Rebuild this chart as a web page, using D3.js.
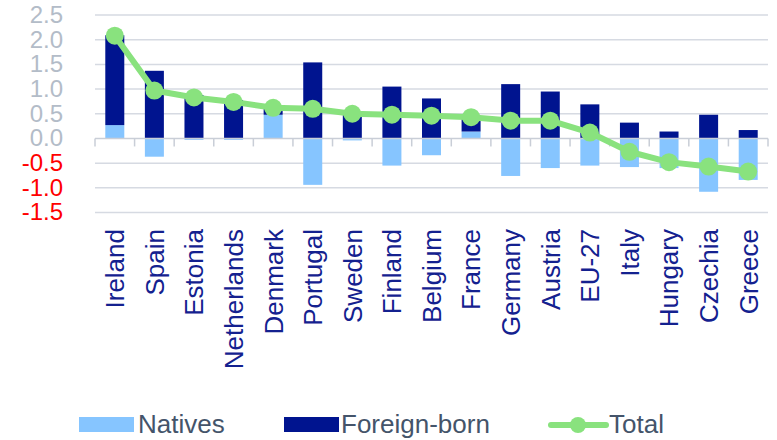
<!DOCTYPE html>
<html>
<head>
<meta charset="utf-8">
<script src="https://cdn.jsdelivr.net/npm/d3@7"></script>
<style>
  body { margin: 0; background: #fff; }
  svg { display: block; font-family: "Liberation Sans", Arial, sans-serif; }
</style>
</head>
<body>
<div id="chart"></div>
<script>
// data (percentage points)
const countries = ["Ireland", "Spain", "Estonia", "Netherlands", "Denmark", "Portugal", "Sweden",
  "Finland", "Belgium", "France", "Germany", "Austria", "EU-27", "Italy", "Hungary", "Czechia", "Greece"];
const natives     = [0.27, -0.37, -0.03, -0.03, 0.48, -0.94, -0.04, -0.55, -0.34, 0.14, -0.76, -0.60, -0.55, -0.58, -0.60, -1.08, -0.84];
const foreignBorn = [1.82, 1.37, 0.88, 0.78, 0.18, 1.54, 0.55, 1.05, 0.81, 0.27, 1.10, 0.95, 0.69, 0.32, 0.14, 0.48, 0.17];
const total       = [2.08, 0.97, 0.83, 0.74, 0.62, 0.60, 0.50, 0.48, 0.46, 0.43, 0.36, 0.36, 0.12, -0.27, -0.48, -0.57, -0.67];
const yTicks = [-1.5, -1.0, -0.5, 0.0, 0.5, 1.0, 1.5, 2.0, 2.5];

const width = 777, height = 440;
const colNat = "#86c5ff", colFor = "#00148f", colTot = "#89e27e";

const svg = d3.select("#chart").append("svg")
  .attr("width", width)
  .attr("height", height);

const x = d3.scaleBand().domain(countries).range([95, 768]).paddingInner(0.52).paddingOuter(0.26);
const xEdge = d3.scaleLinear().domain([0, countries.length]).range([95, 768]);
const y = d3.scaleLinear().domain([-1.5, 2.5]).range([212.5, 15]);

// gridlines
svg.append("g").selectAll("line")
  .data(yTicks.filter(d => d !== 0))
  .enter().append("line")
  .attr("x1", 95).attr("x2", 768)
  .attr("y1", d => y(d)).attr("y2", d => y(d))
  .attr("stroke", "#d6dae2")
  .attr("stroke-width", 1.5);

// y labels
svg.append("g").selectAll("text")
  .data(yTicks)
  .enter().append("text")
  .attr("x", 63)
  .attr("y", d => y(d))
  .attr("dy", "0.33em")
  .attr("text-anchor", "end")
  .style("font-size", "24px")
  .attr("fill", d => d < 0 ? "#ff0000" : "#b3bcc8")
  .text(d => d.toFixed(1));

// stacked bars
const rows = countries.map((c, i) => ({ country: c, natives: natives[i], foreign: foreignBorn[i] }));
const series = d3.stack()
  .keys(["natives", "foreign"])
  .offset(d3.stackOffsetDiverging)(rows);
const colors = { natives: colNat, foreign: colFor };

svg.append("g").selectAll("g")
  .data(series)
  .enter().append("g")
  .attr("fill", d => colors[d.key])
  .selectAll("rect")
  .data(d => d)
  .enter().append("rect")
  .attr("x", d => x(d.data.country))
  .attr("width", x.bandwidth())
  .attr("y", d => y(Math.max(d[0], d[1])))
  .attr("height", d => Math.abs(y(d[0]) - y(d[1])));

// zero axis with ticks
const axis = svg.append("g").attr("stroke", "#c9ced7").attr("stroke-width", 1.5);
axis.append("line")
  .attr("x1", 95).attr("x2", 768)
  .attr("y1", y(0)).attr("y2", y(0));
axis.selectAll(".tk")
  .data(d3.range(countries.length + 1))
  .enter().append("line")
  .attr("class", "tk")
  .attr("x1", d => xEdge(d)).attr("x2", d => xEdge(d))
  .attr("y1", y(0)).attr("y2", y(0) + 8);

// total line
const cx = c => x(c) + x.bandwidth() / 2;
const line = d3.line().x((d, i) => cx(countries[i])).y(d => y(d));
svg.append("path")
  .datum(total)
  .attr("fill", "none")
  .attr("stroke", colTot)
  .attr("stroke-width", 6)
  .attr("stroke-linejoin", "round")
  .attr("d", line);
svg.append("g").selectAll("circle")
  .data(total)
  .enter().append("circle")
  .attr("cx", (d, i) => cx(countries[i]))
  .attr("cy", d => y(d))
  .attr("r", 9)
  .attr("fill", colTot);

// x labels
svg.append("g").selectAll("text")
  .data(countries)
  .enter().append("text")
  .attr("transform", d => `translate(${cx(d)},229) rotate(-90)`)
  .attr("dy", "0.36em")
  .attr("text-anchor", "end")
  .style("font-size", "26px")
  .attr("fill", "#14218f")
  .text(d => d);

// legend
const legend = svg.append("g").style("font-size", "26px").attr("fill", "#44546a");
legend.append("rect").attr("x", 79).attr("y", 417).attr("width", 55).attr("height", 15).attr("fill", colNat);
legend.append("text").attr("x", 138).attr("y", 433).text("Natives");
legend.append("rect").attr("x", 284).attr("y", 417).attr("width", 55).attr("height", 15).attr("fill", colFor);
legend.append("text").attr("x", 341).attr("y", 433).text("Foreign-born");
legend.append("line").attr("x1", 551).attr("x2", 606).attr("y1", 425).attr("y2", 425)
  .attr("stroke", colTot).attr("stroke-width", 6).attr("stroke-linecap", "round");
legend.append("circle").attr("cx", 578).attr("cy", 425).attr("r", 8).attr("fill", colTot);
legend.append("text").attr("x", 609).attr("y", 433).text("Total");
</script>
</body>
</html>
